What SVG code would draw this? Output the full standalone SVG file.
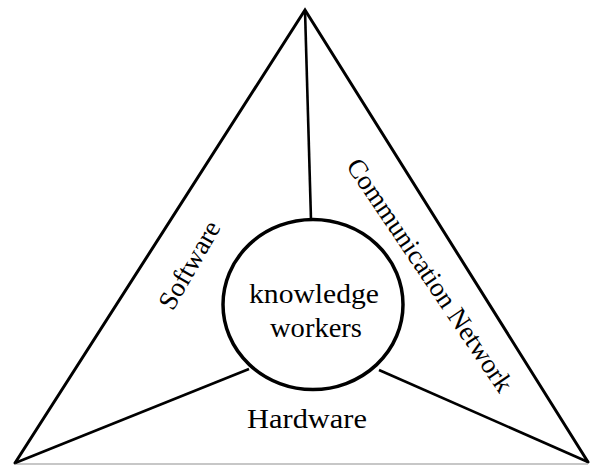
<svg xmlns="http://www.w3.org/2000/svg" width="590" height="465" viewBox="0 0 590 465">
  <style>
    .edge { stroke: #000; stroke-width: 3; fill: none; stroke-linecap: round; stroke-linejoin: miter; }
    .spoke { stroke: #000; stroke-width: 2.6; fill: none; }
    .lbl { font-family: "Liberation Serif", "Times New Roman", serif; font-size: 27px; fill: #000; }
  </style>
  <rect width="590" height="465" fill="#fff"/>

  <!-- outer triangle -->
  <g id="triangle">
    <polyline class="edge" points="15,463 305,10 588,462"/>
    <line x1="15" y1="464" x2="588" y2="464" stroke="#b5b5b5" stroke-width="1.5"/>
  </g>

  <!-- spokes from the corners to the centre -->
  <g id="connectors">
    <line class="spoke" x1="305" y1="10" x2="311" y2="220"/>
    <line class="spoke" x1="15" y1="463" x2="249" y2="369"/>
    <line class="spoke" x1="588" y1="462" x2="379" y2="370"/>
  </g>

  <g id="knowledge-workers">
    <ellipse cx="313" cy="304.5" rx="90" ry="85" fill="#fff" stroke="#000" stroke-width="3.5"/>
    <text class="lbl" x="314" y="303" text-anchor="middle" textLength="130" lengthAdjust="spacingAndGlyphs">knowledge</text>
    <text class="lbl" x="316" y="337" text-anchor="middle" textLength="92" lengthAdjust="spacingAndGlyphs">workers</text>
  </g>

  <g id="software">
    <text class="lbl" text-anchor="middle" transform="translate(197,269.5) rotate(-60)">Software</text>
  </g>

  <g id="communication-network">
    <text class="lbl" text-anchor="middle" transform="translate(422.5,280) rotate(56)">Communication Network</text>
  </g>

  <g id="hardware">
    <text class="lbl" x="307" y="428" text-anchor="middle" textLength="120" lengthAdjust="spacingAndGlyphs">Hardware</text>
  </g>
</svg>
